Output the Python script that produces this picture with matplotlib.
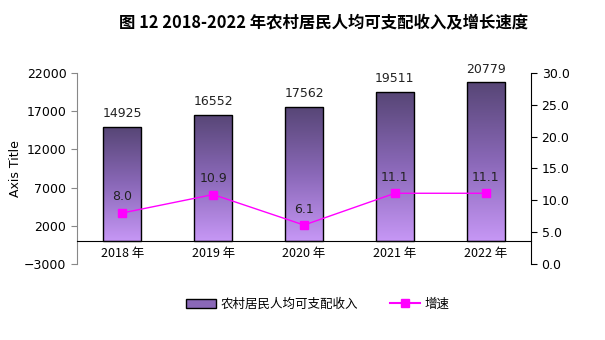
import matplotlib.pyplot as plt
import numpy as np
from matplotlib.colors import LinearSegmentedColormap
from matplotlib.lines import Line2D
from matplotlib.patches import Patch

plt.rcParams['font.family'] = ['Noto Sans CJK SC', 'DejaVu Sans']

years = ["2018 年", "2019 年", "2020 年", "2021 年", "2022 年"]
income = [14925, 16552, 17562, 19511, 20779]
growth = [8.0, 10.9, 6.1, 11.1, 11.1]

fig = plt.figure(figsize=(6.05, 3.4), dpi=100)
ax = fig.add_axes([0.127, 0.224, 0.751, 0.561])
ax2 = ax.twinx()

x = np.arange(len(years))
w = 0.42
cmap = LinearSegmentedColormap.from_list("p", ["#c697f5", "#8a68b8", "#574676"])
grad = np.linspace(0, 1, 256).reshape(-1, 1)

bars = ax.bar(x, income, width=w, facecolor="none", edgecolor="black", linewidth=1, zorder=3)
for b in bars:
    x0, h = b.get_x(), b.get_height()
    im = ax.imshow(grad, cmap=cmap, origin="lower", aspect="auto",
                   extent=[x0, x0 + w, 0, h], zorder=2)
    im.set_clip_path(b)
    ax.text(x0 + w / 2, h + 900, str(h), ha="center", va="bottom", fontsize=9,
            family="DejaVu Sans", color="#222222")

ax.set_xlim(-0.5, 4.5)
ax.set_ylim(-3000, 22000)
ax.set_yticks(np.arange(-3000, 22001, 5000))
ax.spines['top'].set_visible(False)
ax.spines['right'].set_visible(False)
ax.spines['left'].set_color("#888888")
ax.spines['bottom'].set_position(('data', 0))
ax.set_xticks(x)
ax.set_xticklabels(years, fontsize=9)
ax.tick_params(axis='x', length=0, pad=4)
ax.tick_params(axis='y', labelsize=9, color="#888888", length=4)
ax.set_ylabel("Axis Title", fontsize=9, family="DejaVu Sans")
ax.yaxis.set_label_coords(-0.12, 0.5)
for t in ax.get_yticklabels():
    t.set_family("DejaVu Sans")

ax2.plot(x, growth, color="#ff00ff", linewidth=1, marker="s", markersize=6, zorder=5)
for xi, g in zip(x, growth):
    ax2.text(xi, g + 1.5, f"{g:.1f}", ha="center", va="bottom", fontsize=9,
             family="DejaVu Sans", color="#222222")
ax2.set_ylim(0, 30)
ax2.set_yticks(np.arange(0, 31, 5))
ax2.set_yticklabels([f"{v:.1f}" for v in np.arange(0, 31, 5)], fontsize=9, family="DejaVu Sans")
ax2.spines['top'].set_visible(False)
ax2.spines['left'].set_visible(False)
ax2.spines['bottom'].set_visible(False)
ax2.tick_params(axis='y', length=4)

fig.text(0.535, 0.93, "图 12 2018-2022 年农村居民人均可支配收入及增长速度", ha="center",
         va="center", fontsize=11.8, fontweight="bold")

handles = [Patch(facecolor="#8a68b8", edgecolor="black", label="农村居民人均可支配收入"),
           Line2D([], [], color="#ff00ff", marker="s", markersize=6, label="增速")]
fig.legend(handles=handles, loc="center", bbox_to_anchor=(0.525, 0.105), ncol=2,
           frameon=False, fontsize=9, columnspacing=2.5, handlelength=2.4, handletextpad=0.4)

fig.savefig("out.png", dpi=100)
